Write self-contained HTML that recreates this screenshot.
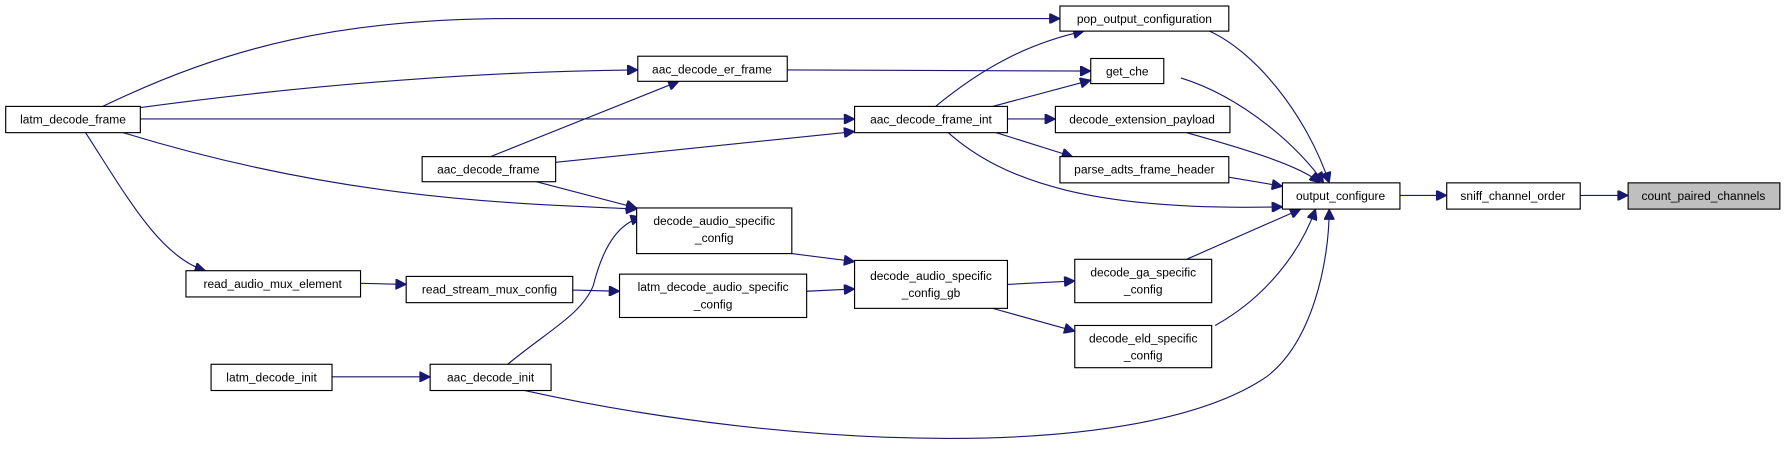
<!DOCTYPE html>
<html><head><meta charset="utf-8"><style>
html,body{margin:0;padding:0;background:#fff;}
svg{display:block;}
text{font-family:"Liberation Sans",Arial,sans-serif;font-size:10.5px;fill:#000;text-anchor:middle;}
rect{fill:#fff;stroke:#000;stroke-width:1;}
path{fill:none;stroke:#191970;stroke-width:1;}
</style></head><body>
<svg width="1789" height="457" viewBox="0 0 1568 400" xmlns="http://www.w3.org/2000/svg">
<defs><marker id="a" viewBox="0 0 10 10" refX="10" refY="5" markerWidth="11" markerHeight="9" markerUnits="userSpaceOnUse" orient="auto"><path d="M0,0 L10,5 L0,10 Z" style="fill:#191970;stroke:#191970"/></marker></defs>
<g marker-end="url(#a)">
<path d="M90,93 C200,40 300,16 450,16 L929,16"/>
<path d="M123,94 C300,70 450,62 559,61"/>
<path d="M123,104 L749,104"/>
<path d="M108,116 C300,175 450,178 558,183"/>
<path d="M75,116 C110,170 140,225 180,237"/>
<path d="M430,137 L595,71"/>
<path d="M487,142 L749,115"/>
<path d="M470,159 L558,182"/>
<path d="M445,319 C480,290 510,275 520,250 C530,210 545,195 562,190"/>
<path d="M460,342 C700,395 1000,405 1110,330 C1150,300 1165,230 1165,183"/>
<path d="M291,330 L377,330"/>
<path d="M316,248 L356,249"/>
<path d="M502,254 L543,255"/>
<path d="M707,255 L749,253"/>
<path d="M694,222 L749,229"/>
<path d="M690,61 L956,62"/>
<path d="M820,93 C860,60 900,38 950,27"/>
<path d="M870,93 L956,70"/>
<path d="M883,104 L925,104"/>
<path d="M870,115 L940,137"/>
<path d="M830,115 C880,160 960,185 1124,181"/>
<path d="M1060,27 C1100,45 1145,100 1165,160"/>
<path d="M1035,68 C1090,85 1140,130 1160,160"/>
<path d="M1040,116 C1090,130 1140,145 1157,160"/>
<path d="M1077,155 L1124,163"/>
<path d="M883,249 L942,246"/>
<path d="M870,270 L942,290"/>
<path d="M1040,227 L1140,183"/>
<path d="M1065,285 C1110,260 1140,220 1153,183"/>
<path d="M1227,171 L1268,171"/>
<path d="M1385,171 L1427,171"/>
</g>
<rect x="5" y="93" width="118" height="23"/><text x="64" y="108">latm_decode_frame</text>
<rect x="559" y="49" width="131" height="22"/><text x="624" y="64">aac_decode_er_frame</text>
<rect x="929" y="5" width="148" height="22"/><text x="1003" y="20">pop_output_configuration</text>
<rect x="956" y="51" width="64" height="22"/><text x="988" y="66">get_che</text>
<rect x="749" y="93" width="134" height="23"/><text x="816" y="108">aac_decode_frame_int</text>
<rect x="925" y="93" width="153" height="23"/><text x="1001" y="108">decode_extension_payload</text>
<rect x="370" y="137" width="117" height="22"/><text x="428" y="152">aac_decode_frame</text>
<rect x="929" y="137" width="148" height="23"/><text x="1003" y="152">parse_adts_frame_header</text>
<rect x="1124" y="160" width="103" height="23"/><text x="1175" y="175">output_configure</text>
<rect x="1268" y="160" width="117" height="23"/><text x="1326" y="175">sniff_channel_order</text>
<rect x="1427" y="160" width="133" height="23" style="fill:#bfbfbf"/><text x="1493" y="175">count_paired_channels</text>
<rect x="558" y="182" width="136" height="40"/><text x="626" y="197">decode_audio_specific</text><text x="626" y="212">_config</text>
<rect x="163" y="237" width="153" height="23"/><text x="239" y="252">read_audio_mux_element</text>
<rect x="356" y="242" width="146" height="23"/><text x="429" y="257">read_stream_mux_config</text>
<rect x="543" y="240" width="164" height="38"/><text x="625" y="255">latm_decode_audio_specific</text><text x="625" y="270">_config</text>
<rect x="749" y="228" width="134" height="42"/><text x="816" y="245">decode_audio_specific</text><text x="816" y="260">_config_gb</text>
<rect x="942" y="227" width="120" height="38"/><text x="1002" y="242">decode_ga_specific</text><text x="1002" y="257">_config</text>
<rect x="942" y="285" width="120" height="37"/><text x="1002" y="300">decode_eld_specific</text><text x="1002" y="315">_config</text>
<rect x="185" y="319" width="106" height="23"/><text x="238" y="334">latm_decode_init</text>
<rect x="377" y="319" width="106" height="23"/><text x="430" y="334">aac_decode_init</text>
</svg>
</body></html>
